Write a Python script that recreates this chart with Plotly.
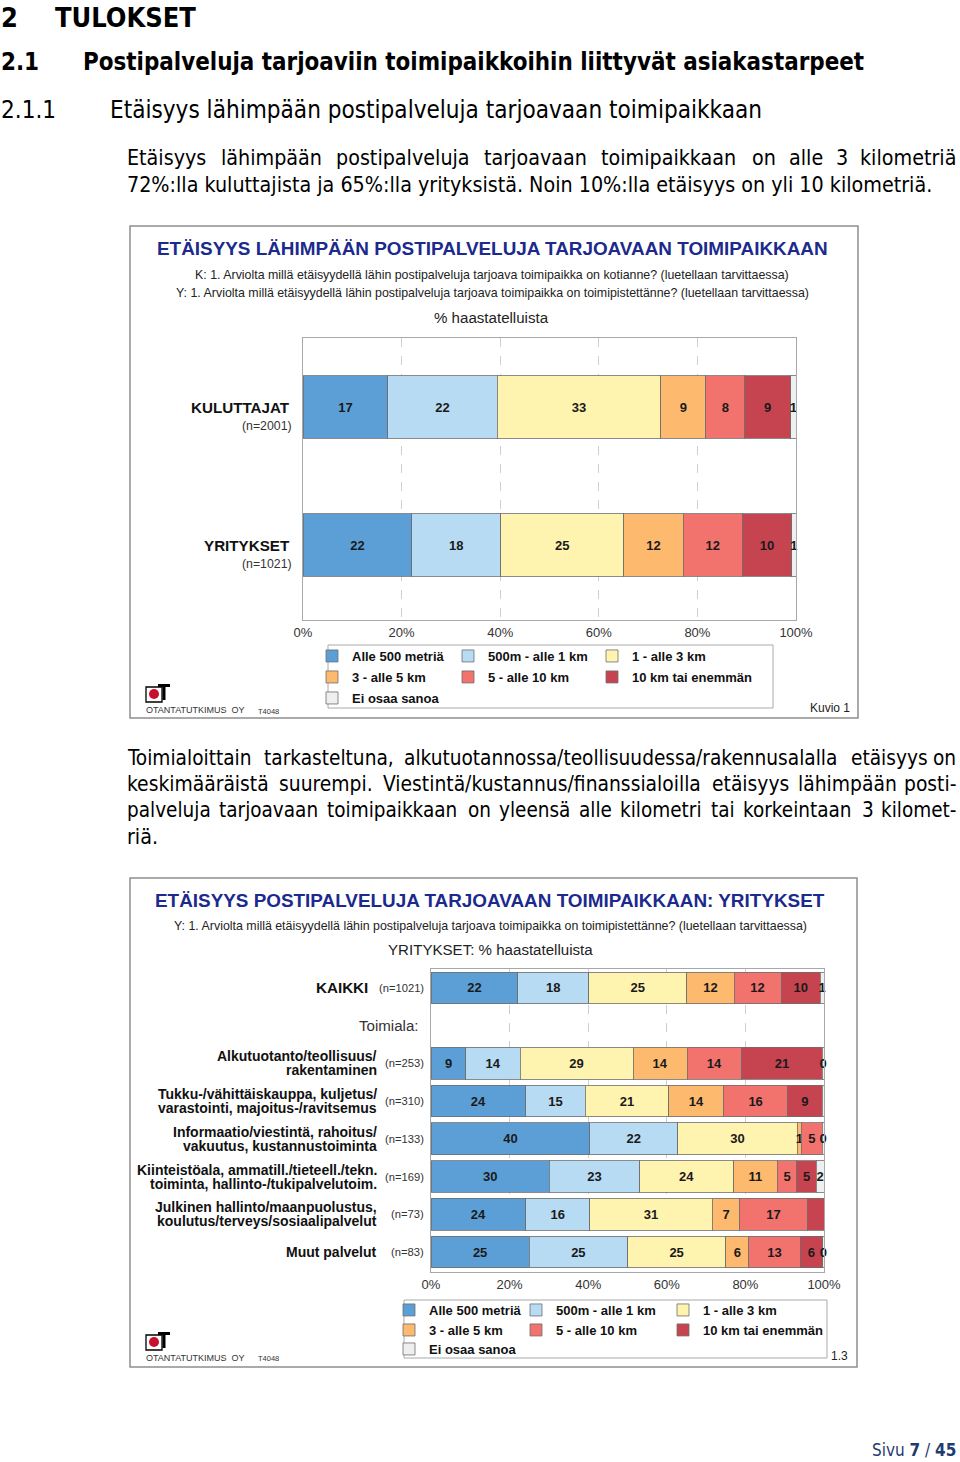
import plotly.graph_objects as go

# ---------------- DATA ----------------
series_names = ["Alle 500 metriä", "500m - alle 1 km", "1 - alle 3 km",
                "3 - alle 5 km", "5 - alle 10 km", "10 km tai enemmän", "Ei osaa sanoa"]
series_colors = ["#5c9fd6", "#b6dbf3", "#fff3b0", "#fdb96e", "#f2736e", "#c6444f", "#efefef"]

# Chart 1 (% of respondents)
c1_groups = ["KULUTTAJAT", "YRITYKSET"]
c1_n = ["(n=2001)", "(n=1021)"]
kuluttajat = [17.2, 22.2, 33.2, 9.1, 7.9, 9.3, 1.1]
yritykset = [22.1, 18.0, 25.0, 12.0, 12.0, 10.0, 0.9]

# Chart 2 (companies by industry)
kaikki_label = "KAIKKI"
kaikki_n = "(n=1021)"
kaikki = [22.1, 18.0, 25.0, 12.0, 12.0, 10.0, 0.9]
industries = [
    "Alkutuotanto/teollisuus/\nrakentaminen",
    "Tukku-/vähittäiskauppa, kuljetus/\nvarastointi, majoitus-/ravitsemus",
    "Informaatio/viestintä, rahoitus/\nvakuutus, kustannustoiminta",
    "Kiinteistöala, ammatill./tieteell./tekn.\ntoiminta, hallinto-/tukipalvelutoim.",
    "Julkinen hallinto/maanpuolustus,\nkoulutus/terveys/sosiaalipalvelut",
    "Muut palvelut",
]
industry_n = ["(n=253)", "(n=310)", "(n=133)", "(n=169)", "(n=73)", "(n=83)"]
alkutuotanto = [8.9, 13.8, 28.7, 13.8, 13.8, 20.6, 0.4]
tukku = [24.1, 15.1, 21.3, 14.0, 16.2, 8.9, 0.4]
informaatio = [40.4, 22.4, 30.4, 1.0, 5.4, 0.0, 0.4]
kiinteisto = [30.1, 23.0, 23.9, 11.1, 5.0, 4.9, 2.0]
julkinen = [24.1, 16.3, 31.2, 7.0, 17.1, 4.3, 0.0]
muut = [25.0, 25.0, 25.0, 5.9, 13.0, 5.8, 0.3]
industry_rows = [alkutuotanto, tukku, informaatio, kiinteisto, julkinen, muut]

x_ticks = [0, 20, 40, 60, 80, 100]
x_tick_labels = ["0%", "20%", "40%", "60%", "80%", "100%"]

# ---------------- GEOMETRY HELPERS ----------------
W, H = 960, 1462
ML, MR = 303, 136
PW = W - ML - MR


def X(p):
    return (p - ML) / PW


def Y(p):
    return 1 - p / H


FN = "Liberation Sans Narrow, Arial Narrow, Liberation Sans, Arial, sans-serif"
FA = "Liberation Sans, Arial, sans-serif"
FT = "DejaVu Sans Condensed, DejaVu Sans, Verdana, sans-serif"
NAVY = "#1b2a8c"
EDGE = "rgba(110,110,110,0.8)"
FRAME = "#a8a8a8"


def lab(v):
    return f"{v:.0f}" if v > 0 else ""


def txt(t, x, y, size, family, color="#000", anchor="left", weight="normal",
        xref="paper", yref="paper", yshift=0, vanchor="middle"):
    return dict(text=t, x=X(x) if xref == "paper" else x,
                y=Y(y) if yref == "paper" else y,
                xref=xref, yref=yref, xanchor=anchor, yanchor=vanchor,
                showarrow=False, align=anchor if anchor != "center" else "center",
                yshift=yshift,
                font=dict(size=size, family=family, color=color, weight=weight))


# approximate DejaVu Sans Condensed advance widths (units of 2048) for justification
CW = {" ": 651, "%": 1946, ",": 651, "-": 739, ".": 651, "/": 620, ":": 690,
      "a": 1200, "b": 1300, "c": 1126, "d": 1300, "e": 1260, "f": 721, "g": 1300,
      "h": 1298, "i": 540, "j": 540, "k": 1186, "l": 540, "m": 1995, "n": 1260,
      "o": 1253, "p": 1300, "q": 1300, "r": 842, "s": 1030, "t": 803, "u": 1260,
      "v": 1212, "w": 1675, "x": 1212, "y": 1212, "z": 1075, "ä": 1200, "ö": 1253,
      "E": 1294, "T": 1251, "V": 1401, "N": 1532, "K": 1343}
for d in "0123456789":
    CW[d] = 1303


def em(word):
    return sum(CW.get(c, 1250) for c in word) / 2048


def justify(line, x0, x1, y, size, family, min_gap=7.5, k=0.935):
    words = line.split(" ")
    ems = [em(w) for w in words]
    span = x1 - x0
    size = min(size, (span - (len(words) - 1) * min_gap) / (sum(ems) * k))
    ws = [e * size * k for e in ems]
    gap = (span - sum(ws)) / (len(words) - 1)
    out = []
    x = x0
    for i, w in enumerate(words):
        if i == len(words) - 1:
            out.append(txt(w, x1, y, size, family, anchor="right"))
        else:
            out.append(txt(w, x, y, size, family))
        x += ws[i] + gap
    return out


def logo(x0, y0):
    return [
        dict(type="rect", xref="paper", yref="paper", x0=X(x0), x1=X(x0 + 16),
             y0=Y(y0 + 3), y1=Y(y0 + 18), line=dict(color="black", width=1.3)),
        dict(type="circle", xref="paper", yref="paper", x0=X(x0 + 3), x1=X(x0 + 13),
             y0=Y(y0 + 5), y1=Y(y0 + 15), fillcolor="#c8102e", line=dict(width=0)),
        dict(type="rect", xref="paper", yref="paper", x0=X(x0 + 12), x1=X(x0 + 24),
             y0=Y(y0), y1=Y(y0 + 3), fillcolor="black", line=dict(width=0)),
        dict(type="rect", xref="paper", yref="paper", x0=X(x0 + 16.5), x1=X(x0 + 19.5),
             y0=Y(y0), y1=Y(y0 + 16), fillcolor="black", line=dict(width=0)),
    ]


# ---------------- FIGURE ----------------
fig = go.Figure()

c1_rows = [kuluttajat, yritykset]
c1_pos = [len(c1_groups) - 1 - i for i in range(len(c1_groups))]
c2_rows = [kaikki] + industry_rows
c2_pos = [len(industries) + 1] + [len(industries) - 1 - i for i in range(len(industries))]

# legend layout: 3 columns per row, one horizontal legend per row
N_COLS = 3
c1_colw = [91, 99, 125]
c2_colw = [82, 102, 125]


def legend_key(i):
    return "legend" if i == 1 else f"legend{i}"


for s, name in enumerate(series_names):
    row, col = s // N_COLS, s % N_COLS
    common = dict(orientation="h", name=name,
                  marker=dict(color=series_colors[s], line=dict(color=EDGE, width=1)),
                  textposition="inside", insidetextanchor="middle", textangle=0,
                  textfont=dict(size=13, family=FN, color="#1a1a1a", weight="bold"),
                  cliponaxis=False, hoverinfo="skip")
    v1 = [r[s] for r in c1_rows]
    fig.add_trace(go.Bar(x=v1, y=c1_pos, width=0.45, text=[lab(v) for v in v1],
                         xaxis="x", yaxis="y", legend=legend_key(1 + row),
                         legendwidth=c1_colw[col], **common))
    v2 = [r[s] for r in c2_rows]
    fig.add_trace(go.Bar(x=v2, y=c2_pos, width=0.84, text=[lab(v) for v in v2],
                         xaxis="x2", yaxis="y2", legend=legend_key(4 + row),
                         legendwidth=c2_colw[col], **common))

axis_x = dict(range=[0, 100], tickmode="array", tickvals=x_ticks, ticktext=x_tick_labels,
              showgrid=True, gridcolor="#cfcfcf", griddash="dash", gridwidth=1,
              showline=True, mirror=True, linecolor=FRAME, linewidth=1, zeroline=False,
              ticks="", tickfont=dict(size=13, family=FN, color="#333"), fixedrange=True)
axis_y = dict(showticklabels=False, showgrid=False, zeroline=False, showline=True,
              mirror=True, linecolor=FRAME, linewidth=1, ticks="", fixedrange=True)

legend_common = dict(orientation="h", xanchor="left", yanchor="middle",
                     font=dict(size=13, family=FN, color="#111", weight="bold"),
                     borderwidth=0, bgcolor="rgba(0,0,0,0)",
                     traceorder="normal", itemclick=False, itemdoubleclick=False)

c1_leg_rows = [656, 677, 698]
c2_leg_rows = [1310, 1330, 1349]
legends = {}
for r in range(3):
    legends[legend_key(1 + r)] = dict(x=X(312), y=Y(c1_leg_rows[r]), **legend_common)
    legends[legend_key(4 + r)] = dict(x=X(389), y=Y(c2_leg_rows[r]), **legend_common)

fig.update_layout(
    width=W, height=H, margin=dict(l=ML, r=MR, t=0, b=0, pad=0),
    paper_bgcolor="white", plot_bgcolor="white", barmode="stack",
    uniformtext=dict(minsize=13, mode="show"),
    xaxis=dict(domain=[X(303), X(796)], anchor="y", **axis_x),
    yaxis=dict(domain=[Y(620), Y(338)], anchor="x", range=[-0.543, 1.5], **axis_y),
    xaxis2=dict(domain=[X(431), X(824)], anchor="y2", **axis_x),
    yaxis2=dict(domain=[Y(1272), Y(969)], anchor="x2", range=[-0.53, 7.5], **axis_y),
    **legends,
)

ann = []
# Page headings
ann.append(txt("2", -1, 0, 27, FT, weight="bold", vanchor="top"))
ann.append(txt("TULOKSET", 53, 0, 27, FT, weight="bold", vanchor="top"))
ann.append(txt("2.1", -1, 62, 23.9, FT, weight="bold"))
ann.append(txt("Postipalveluja tarjoaviin toimipaikkoihin liittyvät asiakastarpeet", 81, 62, 23.9, FT, weight="bold"))
ann.append(txt("2.1.1", -1, 110, 24.1, FT))
ann.append(txt("Etäisyys lähimpään postipalveluja tarjoavaan toimipaikkaan", 108, 110, 24.1, FT))

BS = 21.3
ann += justify("Etäisyys lähimpään postipalveluja tarjoavaan toimipaikkaan on alle 3 kilometriä", 125, 958, 158, BS, FT)
ann.append(txt("72%:lla kuluttajista ja 65%:lla yrityksistä. Noin 10%:lla etäisyys on yli 10 kilometriä.", 125, 184, BS, FT))
ann += justify("Toimialoittain tarkasteltuna, alkutuotannossa/teollisuudessa/rakennusalalla etäisyys on", 125, 958, 758, BS, FT)
ann += justify("keskimääräistä suurempi. Viestintä/kustannus/finanssialoilla etäisyys lähimpään posti-", 125, 958, 784, BS, FT)
ann += justify("palveluja tarjoavaan toimipaikkaan on yleensä alle kilometri tai korkeintaan 3 kilomet-", 125, 958, 810, BS, FT)
ann.append(txt("riä.", 125, 836, BS, FT))

# Chart 1 texts
ann.append(txt("ETÄISYYS LÄHIMPÄÄN POSTIPALVELUJA TARJOAVAAN TOIMIPAIKKAAN", 492, 248, 18.9, FA, NAVY, "center", "bold"))
ann.append(txt("K: 1. Arviolta millä etäisyydellä lähin postipalveluja tarjoava toimipaikka on kotianne? (luetellaan tarvittaessa)", 492, 275, 12.4, FN, "#222", "center"))
ann.append(txt("Y: 1. Arviolta millä etäisyydellä lähin postipalveluja tarjoava toimipaikka on toimipistettänne? (luetellaan tarvittaessa)", 492, 293, 12.4, FN, "#222", "center"))
ann.append(txt("% haastatelluista", 491, 317, 15.1, FA, "#222", "center"))
for g, n, p in zip(c1_groups, c1_n, c1_pos):
    ann.append(txt(g, 292, p, 15.2, FN, "#111", "right", "bold", yref="y"))
    ann.append(txt(n, 294, p, 12.3, FN, "#333", "right", yref="y", yshift=-19))
ann.append(txt("OTANTATUTKIMUS  OY", 144, 710, 9, FN, "#333"))
ann.append(txt("T4048", 256, 711, 7.5, FN, "#333"))
ann.append(txt("Kuvio 1", 852, 708, 12, FN, "#222", "right"))

# Chart 2 texts
ann.append(txt("ETÄISYYS POSTIPALVELUJA TARJOAVAAN TOIMIPAIKKAAN: YRITYKSET", 490, 900, 18.9, FA, NAVY, "center", "bold"))
ann.append(txt("Y: 1. Arviolta millä etäisyydellä lähin postipalveluja tarjoava toimipaikka on toimipistettänne? (luetellaan tarvittaessa)", 490, 926, 12.4, FN, "#222", "center"))
ann.append(txt("YRITYKSET: % haastatelluista", 490, 949, 15.1, FA, "#222", "center"))
ann.append(txt(kaikki_label, 370, c2_pos[0], 15.2, FN, "#111", "right", "bold", yref="y2"))
ann.append(txt(kaikki_n, 426, c2_pos[0], 11.2, FN, "#333", "right", yref="y2"))
ann.append(txt("Toimiala:", 421, len(industries), 15.1, FA, "#333", "right", yref="y2"))
for name, n, p in zip(industries, industry_n, c2_pos[1:]):
    lines = name.split("\n")
    k = len(lines)
    for j, ln in enumerate(lines):
        ann.append(txt(ln, 379, p, 14, FN, "#111", "right", "bold", yref="y2",
                       yshift=(k - 1) * 7 - j * 14))
    ann.append(txt(n, 426, p, 11.2, FN, "#333", "right", yref="y2"))
ann.append(txt("OTANTATUTKIMUS  OY", 144, 1358, 9, FN, "#333"))
ann.append(txt("T4048", 256, 1358, 7.5, FN, "#333"))
ann.append(txt("1.3", 850, 1356, 12, FN, "#222", "right"))

# Footer
ann.append(txt("Sivu <b>7</b> / <b>45</b>", 958, 1450, 17, FT, "#1f3b70", "right"))

shapes = [
    dict(type="rect", xref="paper", yref="paper", x0=X(130), x1=X(858), y0=Y(226), y1=Y(718),
         line=dict(color="#8f8f8f", width=1.5)),
    dict(type="rect", xref="paper", yref="paper", x0=X(130), x1=X(857), y0=Y(878), y1=Y(1367),
         line=dict(color="#8f8f8f", width=1.5)),
    # legend frames
    dict(type="rect", xref="paper", yref="paper", x0=X(328), x1=X(773), y0=Y(645), y1=Y(708),
         line=dict(color="#aaaaaa", width=1)),
    dict(type="rect", xref="paper", yref="paper", x0=X(404), x1=X(827), y0=Y(1300), y1=Y(1358),
         line=dict(color="#aaaaaa", width=1)),
]
shapes += logo(146, 684)
shapes += logo(146, 1332)

fig.update_layout(annotations=ann, shapes=shapes)
fig.write_html("out.html",
               config={"displayModeBar": False},
               post_script="document.body.style.margin='0';document.body.style.padding='0';"
                           "document.documentElement.style.overflow='hidden';")
